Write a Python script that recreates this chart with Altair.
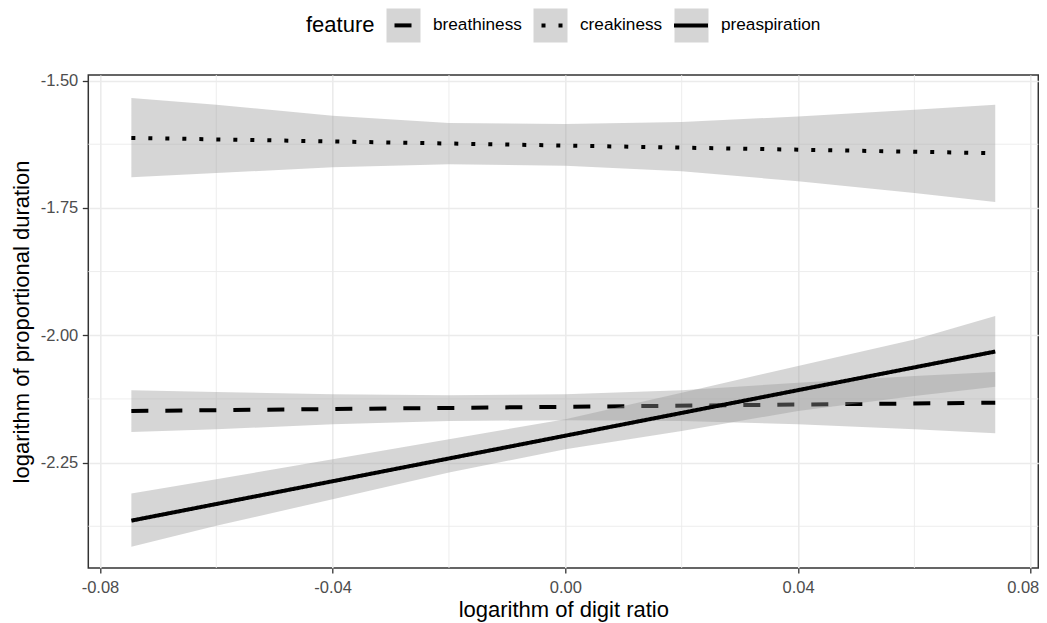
import altair as alt
import pandas as pd

features = ["breathiness", "creakiness", "preaspiration"]

# fitted straight lines: end points
x_ends = [-0.0746, 0.0739]
breath_fit = [-2.1487, -2.1324]
creak_fit = [-1.6125, -1.6425]
preasp_fit = [-2.3640, -2.0320]

# confidence ribbons read at these x positions
x_band = [-0.0746, -0.06, -0.04, -0.02, 0.0, 0.02, 0.04, 0.06, 0.0739]
breath_lo = [-2.1899, -2.1846, -2.1748, -2.1683, -2.1670, -2.1683, -2.1748, -2.1846, -2.1925]
breath_hi = [-2.1082, -2.1114, -2.1160, -2.1180, -2.1160, -2.1082, -2.0931, -2.0801, -2.0722]
creak_lo = [-1.6899, -1.6814, -1.6703, -1.6644, -1.6670, -1.6781, -1.6977, -1.7206, -1.7382]
creak_hi = [-1.5343, -1.5474, -1.5690, -1.5833, -1.5853, -1.5814, -1.5703, -1.5572, -1.5474]
preasp_lo = [-2.4154, -2.3742, -2.3219, -2.2696, -2.2239, -2.1879, -2.1487, -2.1193, -2.1010]
preasp_hi = [-2.3108, -2.2827, -2.2435, -2.2042, -2.1650, -2.1127, -2.0605, -2.0082, -1.9624]

x_major = [-0.08, -0.04, 0.0, 0.04, 0.08]
x_minor = [-0.06, -0.02, 0.02, 0.06]
y_major = [-1.50, -1.75, -2.00, -2.25]
y_minor = [-1.625, -1.875, -2.125, -2.375]

fits = {"breathiness": breath_fit, "creakiness": creak_fit, "preaspiration": preasp_fit}
bands = {"breathiness": (breath_lo, breath_hi), "creakiness": (creak_lo, creak_hi),
         "preaspiration": (preasp_lo, preasp_hi)}

line_rows, band_rows = [], []
for f in features:
    for xv, yv in zip(x_ends, fits[f]):
        line_rows.append({"feature": f, "x": xv, "fit": yv})
    lo, hi = bands[f]
    for xv, a, b in zip(x_band, lo, hi):
        band_rows.append({"feature": f, "key": f, "x": xv, "lo": a, "hi": b})
line_df = pd.DataFrame(line_rows)
band_df = pd.DataFrame(band_rows)

FONT = "Liberation Sans"
xscale = alt.Scale(domain=[-0.0820, 0.0813], nice=False, zero=False)
yscale = alt.Scale(domain=[-2.457, -1.489], nice=False, zero=False)
minus_fix = "replace(datum.label, '\u2212', '-')"

xaxis = alt.Axis(values=x_major, format=".2f", labelExpr=minus_fix,
                 title="logarithm of digit ratio",
                 grid=True, gridColor="#EBEBEB", gridWidth=1.6, domain=False,
                 tickColor="#333333", tickWidth=1.3, tickSize=5,
                 labelFont=FONT, labelFontSize=16.5, labelColor="#4D4D4D", labelPadding=6,
                 labelOffset=alt.ConditionalAxisNumber(
                     condition={"test": "datum.value > 0.07", "value": -8}, value=0),
                 titleFont=FONT, titleFontSize=22, titleFontWeight="normal", titleColor="black",
                 titleBaseline="alphabetic", titleY=48.4)
yaxis = alt.Axis(values=y_major, format=".2f", labelExpr=minus_fix,
                 title="logarithm of proportional duration",
                 grid=True, gridColor="#EBEBEB", gridWidth=1.6, domain=False,
                 tickColor="#333333", tickWidth=1.3, tickSize=6,
                 labelFont=FONT, labelFontSize=16.5, labelColor="#4D4D4D", labelPadding=4.5,
                 titleFont=FONT, titleFontSize=22, titleFontWeight="normal", titleColor="black",
                 titleBaseline="alphabetic", titleX=-59.8, titleAngle=270)

common_legend = dict(orient="none", direction="horizontal",
                     labelFont=FONT, labelFontSize=17.2, labelOffset=11,
                     columnPadding=3, symbolSize=1156, symbolStrokeWidth=4, columns=3)

fill_legend = alt.Legend(title="feature", titleOrient="left", titleFont=FONT,
                         titleFontSize=22, titleFontWeight="normal", titlePadding=9.5,
                         titleAnchor="middle", titleBaseline="line-bottom", titleLineHeight=6,
                         titleColor="black",
                         symbolType="square", symbolOpacity=0.4,
                         symbolStrokeColor="transparent", labelColor="transparent",
                         legendX=217.7, legendY=-68.5, **common_legend)
dash_legend = alt.Legend(title=None, symbolType="stroke", symbolStrokeColor="black",
                         symbolDashOffset=25.5, labelColor="black",
                         legendX=295.7, legendY=-69, **common_legend)

fill_enc = alt.Fill("key:N", scale=alt.Scale(range=["#999999"] * 3), legend=fill_legend)
dash_enc = alt.StrokeDash("feature:N",
                          scale=alt.Scale(domain=features, range=[[17, 17], [4, 13], [1, 0]]),
                          legend=dash_legend)

minor_x = alt.Chart(pd.DataFrame({"v": x_minor})).mark_rule(
    color="#EBEBEB", strokeWidth=0.9).encode(x=alt.X("v:Q", scale=xscale, axis=xaxis))
minor_y = alt.Chart(pd.DataFrame({"w": y_minor})).mark_rule(
    color="#EBEBEB", strokeWidth=0.9).encode(y=alt.Y("w:Q", scale=yscale, axis=yaxis))

layers = [minor_x, minor_y]
for f in features:
    area = alt.Chart(band_df).transform_filter(alt.datum.feature == f).mark_area(
        opacity=0.4).encode(
        x=alt.X("x:Q", scale=xscale, axis=xaxis),
        y=alt.Y("lo:Q", scale=yscale, axis=yaxis),
        y2="hi:Q",
        fill=fill_enc,
    )
    line = alt.Chart(line_df).transform_filter(alt.datum.feature == f).mark_line(
        color="black", strokeWidth=4, strokeCap="butt").encode(
        x=alt.X("x:Q", scale=xscale, axis=xaxis),
        y=alt.Y("fit:Q", scale=yscale, axis=yaxis),
        strokeDash=dash_enc,
    )
    layers += [area, line]

chart = alt.layer(*layers).properties(
    width=950, height=493,
    autosize=alt.AutoSizeParams(type="none"),
    padding={"left": 80.3, "top": 67, "right": 0.7, "bottom": 55},
    background="white",
).configure_view(stroke="#333333", strokeWidth=1.5)

chart.save("out.html", embed_options={"renderer": "svg", "actions": False})
